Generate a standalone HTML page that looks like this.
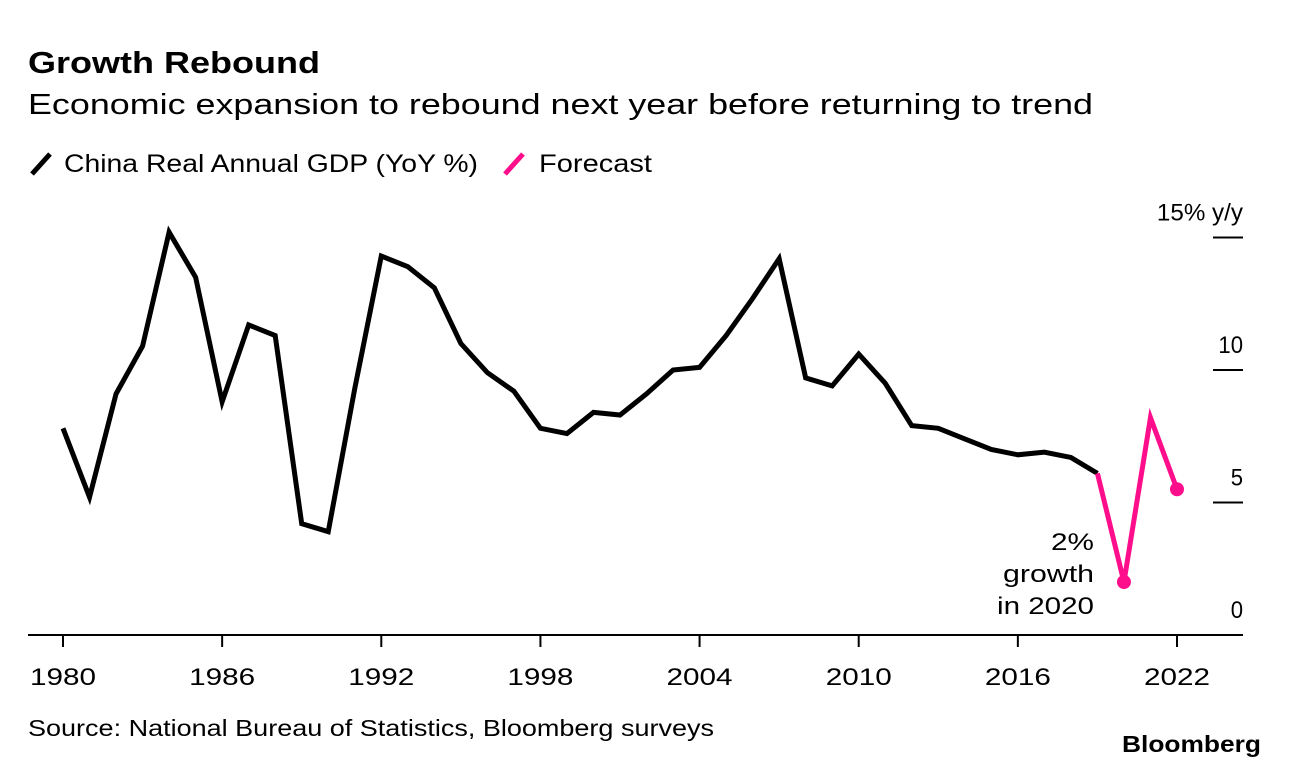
<!DOCTYPE html>
<html><head><meta charset="utf-8"><style>
body{margin:0;background:#fff;width:1289px;height:768px;overflow:hidden;font-family:"Liberation Sans",sans-serif;}
svg{position:absolute;left:0;top:0}
</style></head><body>
<svg width="1289" height="768">
<text x="28" y="73" font-size="31" font-weight="bold" fill="#000" textLength="292" lengthAdjust="spacingAndGlyphs">Growth Rebound</text>
<text x="28" y="114" font-size="29" fill="#000" textLength="1065" lengthAdjust="spacingAndGlyphs">Economic expansion to rebound next year before returning to trend</text>
<g>
<line x1="32" y1="174" x2="50" y2="154" stroke="#000" stroke-width="5"/>
<text x="64" y="172" font-size="25" textLength="414" lengthAdjust="spacingAndGlyphs">China Real Annual GDP (YoY %)</text>
<line x1="505" y1="174" x2="523" y2="154" stroke="#ff0e8c" stroke-width="5"/>
<text x="539" y="172" font-size="25" textLength="113" lengthAdjust="spacingAndGlyphs">Forecast</text>
</g>
<g id="axes"></g>
<g id="marks"></g>
<text x="1094" y="550" font-size="24" text-anchor="end" textLength="43" lengthAdjust="spacingAndGlyphs">2%</text>
<text x="1094" y="582" font-size="24" text-anchor="end" textLength="91" lengthAdjust="spacingAndGlyphs">growth</text>
<text x="1094" y="614" font-size="24" text-anchor="end" textLength="97" lengthAdjust="spacingAndGlyphs">in 2020</text>
<text x="28" y="736" font-size="23" textLength="686" lengthAdjust="spacingAndGlyphs">Source: National Bureau of Statistics, Bloomberg surveys</text>
<text x="1261" y="752" font-size="23" font-weight="bold" text-anchor="end" textLength="139" lengthAdjust="spacingAndGlyphs">Bloomberg</text>
</svg>
<script>
const years=[1980,1981,1982,1983,1984,1985,1986,1987,1988,1989,1990,1991,1992,1993,1994,1995,1996,1997,1998,1999,2000,2001,2002,2003,2004,2005,2006,2007,2008,2009,2010,2011,2012,2013,2014,2015,2016,2017,2018,2019];
const gdp=[7.8,5.2,9.1,10.9,15.2,13.5,8.8,11.7,11.3,4.2,3.9,9.3,14.3,13.9,13.1,11.0,9.9,9.2,7.8,7.6,8.4,8.3,9.1,10.0,10.1,11.3,12.7,14.2,9.7,9.4,10.6,9.5,7.9,7.8,7.4,7.0,6.8,6.9,6.7,6.1];
const fYears=[2019,2020,2021,2022];
const forecast=[6.1,2.0,8.2,5.5];
const xTicks=[1980,1986,1992,1998,2004,2010,2016,2022];
const yTicks=[0,5,10,15];
const yLabels=["0","5","10","15% y/y"];
const NS="http://www.w3.org/2000/svg";
const X=y=>63+(y-1980)*(1177-63)/42;
const Y=v=>635-v*26.5;
const axes=document.getElementById('axes'),marks=document.getElementById('marks');
function mk(t,a,p){const e=document.createElementNS(NS,t);for(const k in a)e.setAttribute(k,a[k]);p.appendChild(e);return e;}
let ax=mk('line',{x1:28,x2:1243,y1:635,y2:635,stroke:'#000','stroke-width':2},axes);


xTicks.forEach(t=>{
 let l=mk('line',{x1:X(t),x2:X(t),y1:635,y2:647,stroke:'#000','stroke-width':2},axes);
 
 
 let tx=mk('text',{x:X(t),y:685,'font-size':24,'text-anchor':'middle',textLength:66,lengthAdjust:'spacingAndGlyphs'},axes);tx.textContent=t;
 
 
});
yTicks.forEach((t,i)=>{
 if(t>0){let l=mk('line',{x1:1213,x2:1243,y1:Y(t),y2:Y(t),stroke:'#000','stroke-width':2},axes);
 
 }
 let tx=mk('text',{x:1243,y:Y(t)-17,'font-size':24,'text-anchor':'end',textLength:yLabels[i].length*12.3,lengthAdjust:'spacingAndGlyphs'},axes);tx.textContent=yLabels[i];
 
 
});
let p1=mk('polyline',{points:years.map((y,i)=>X(y)+','+Y(gdp[i])).join(' '),fill:'none',stroke:'#000','stroke-width':5,'stroke-linejoin':'miter'},marks);


let p2=mk('polyline',{points:fYears.map((y,i)=>X(y)+','+Y(forecast[i])).join(' '),fill:'none',stroke:'#ff0e8c','stroke-width':5},marks);


[1,3].forEach(i=>{
 let c=mk('circle',{cx:X(fYears[i]),cy:Y(forecast[i]),r:7,fill:'#ff0e8c'},marks);
 
 
});
</script>
</body></html>
